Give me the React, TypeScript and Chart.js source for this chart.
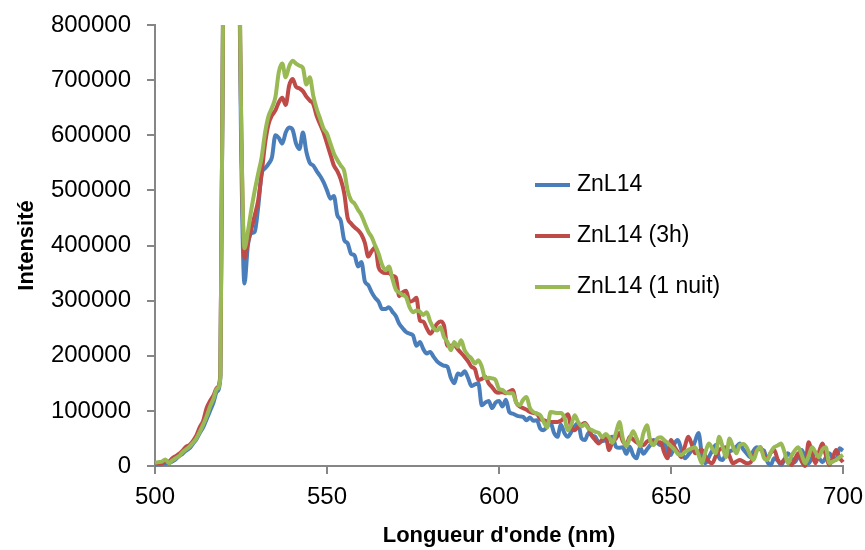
import { useEffect, useRef } from "react";
import { Chart, registerables } from "chart.js";

Chart.register(...registerables);

const wavelengths = [
  500, 501, 502, 503, 504, 505, 506, 507, 508, 509, 510, 511, 512, 513, 514, 515, 516, 517, 518, 519,
  520, 521, 522, 523, 524, 525, 526, 527, 528, 529, 530, 531, 532, 533, 534, 535, 536, 537, 538, 539,
  540, 541, 542, 543, 544, 545, 546, 547, 548, 549, 550, 551, 552, 553, 554, 555, 556, 557, 558, 559,
  560, 561, 562, 563, 564, 565, 566, 567, 568, 569, 570, 571, 572, 573, 574, 575, 576, 577, 578, 579,
  580, 581, 582, 583, 584, 585, 586, 587, 588, 589, 590, 591, 592, 593, 594, 595, 596, 597, 598, 599,
  600, 601, 602, 603, 604, 605, 606, 607, 608, 609, 610, 611, 612, 613, 614, 615, 616, 617, 618, 619,
  620, 621, 622, 623, 624, 625, 626, 627, 628, 629, 630, 631, 632, 633, 634, 635, 636, 637, 638, 639,
  640, 641, 642, 643, 644, 645, 646, 647, 648, 649, 650, 651, 652, 653, 654, 655, 656, 657, 658, 659,
  660, 661, 662, 663, 664, 665, 666, 667, 668, 669, 670, 671, 672, 673, 674, 675, 676, 677, 678, 679,
  680, 681, 682, 683, 684, 685, 686, 687, 688, 689, 690, 691, 692, 693, 694, 695, 696, 697, 698, 699,
  700,
];

const znL14 = [
  2000, 3000, 3000, 5000, 5000, 8000, 12000, 18000, 22000, 28000,
  32000, 40000, 48000, 60000, 70000, 85000, 100000, 115000, 135000, 160000,
  1050000, 1500000, 1600000, 1500000, 1200000, 600000, 331000, 400000, 422000, 425000,
  470000, 530000, 540000, 548000, 560000, 600000, 595000, 585000, 605000, 614000,
  610000, 585000, 575000, 605000, 570000, 550000, 545000, 535000, 526000, 515000,
  500000, 485000, 490000, 455000, 445000, 410000, 404000, 385000, 382000, 362000,
  370000, 335000, 328000, 315000, 305000, 298000, 285000, 285000, 288000, 280000,
  272000, 258000, 250000, 243000, 240000, 237000, 218000, 225000, 212000, 204000,
  207000, 198000, 190000, 185000, 182000, 180000, 160000, 150000, 168000, 165000,
  172000, 160000, 145000, 148000, 150000, 110000, 115000, 118000, 105000, 115000,
  118000, 108000, 120000, 98000, 95000, 92000, 90000, 89000, 83000, 88000,
  82000, 83000, 68000, 65000, 72000, 78000, 60000, 53000, 75000, 60000,
  53000, 62000, 72000, 78000, 50000, 47000, 60000, 55000, 53000, 43000,
  45000, 47000, 50000, 53000, 35000, 33000, 34000, 22000, 35000, 20000,
  14000, 34000, 22000, 30000, 38000, 47000, 42000, 38000, 43000, 25000,
  20000, 40000, 47000, 30000, 14000, 20000, 29000, 45000, 60000, 20000,
  5000, 16000, 28000, 38000, 15000, 11000, 23000, 27000, 29000, 35000,
  41000, 30000, 23000, 16000, 28000, 34000, 30000, 28000, 8000, 2000,
  14000, 10000, 2000, 12000, 23000, 15000, 7000, 18000, 29000, 15000,
  5000, 15000, 23000, 15000, 7000, 15000, 23000, 15000, 11000, 32000,
  28000,
];

const znL14_3h = [
  4000, 5000, 5000, 8000, 8000, 14000, 18000, 22000, 28000, 35000,
  38000, 45000, 55000, 70000, 82000, 105000, 118000, 128000, 142000, 165000,
  1050000, 1500000, 1600000, 1500000, 1200000, 650000, 377000, 405000, 430000, 455000,
  482000, 530000, 585000, 620000, 636000, 645000, 660000, 668000, 655000, 690000,
  702000, 688000, 685000, 680000, 670000, 663000, 657000, 635000, 620000, 605000,
  585000, 565000, 545000, 535000, 520000, 495000, 450000, 440000, 433000, 428000,
  420000, 405000, 380000, 390000, 397000, 360000, 352000, 350000, 350000, 345000,
  342000, 308000, 315000, 318000, 298000, 300000, 305000, 264000, 262000, 250000,
  240000, 248000, 258000, 262000, 255000, 218000, 218000, 219000, 212000, 205000,
  198000, 190000, 180000, 176000, 156000, 158000, 162000, 150000, 143000, 135000,
  133000, 134000, 132000, 135000, 138000, 115000, 108000, 105000, 102000, 98000,
  96000, 95000, 85000, 83000, 81000, 80000, 80000, 80000, 82000, 88000,
  94000, 70000, 65000, 71000, 75000, 78000, 69000, 55000, 47000, 41000,
  48000, 53000, 29000, 45000, 50000, 60000, 45000, 38000, 53000, 48000,
  43000, 40000, 38000, 44000, 47000, 45000, 43000, 43000, 25000, 14000,
  47000, 35000, 25000, 16000, 35000, 53000, 40000, 23000, 26000, 29000,
  18000, 8000, 5000, 18000, 29000, 32000, 34000, 18000, 5000, 8000,
  11000, 8000, 5000, 6000, 18000, 30000, 34000, 20000, 14000, 24000,
  29000, 12000, 5000, 12000, 10000, 2000, 12000, 23000, 8000, 0,
  43000, 22000, 5000, 25000, 41000, 20000, 2000, 15000, 29000, 15000,
  7000,
];

const znL14_1nuit = [
  6000, 7000, 8000, 12000, 5000, 10000, 14000, 18000, 25000, 30000,
  35000, 42000, 50000, 62000, 75000, 90000, 108000, 122000, 140000, 160000,
  1050000, 1500000, 1600000, 1500000, 1200000, 650000, 395000, 425000, 465000, 500000,
  531000, 560000, 605000, 635000, 650000, 669000, 715000, 730000, 705000, 725000,
  735000, 730000, 726000, 722000, 692000, 705000, 672000, 648000, 630000, 612000,
  603000, 585000, 567000, 555000, 545000, 535000, 500000, 482000, 476000, 465000,
  455000, 440000, 425000, 415000, 400000, 385000, 365000, 355000, 362000, 340000,
  320000, 315000, 310000, 306000, 288000, 279000, 282000, 280000, 274000, 279000,
  262000, 250000, 246000, 252000, 234000, 225000, 210000, 225000, 216000, 228000,
  210000, 201000, 195000, 186000, 192000, 180000, 159000, 160000, 159000, 156000,
  140000, 138000, 133000, 132000, 132000, 115000, 110000, 120000, 125000, 105000,
  98000, 95000, 92000, 80000, 70000, 98000, 97000, 96000, 96000, 88000,
  65000, 75000, 92000, 80000, 72000, 76000, 68000, 65000, 62000, 60000,
  52000, 58000, 52000, 42000, 60000, 80000, 50000, 36000, 50000, 63000,
  50000, 36000, 60000, 74000, 45000, 38000, 50000, 52000, 47000, 42000,
  36000, 30000, 22000, 20000, 25000, 29000, 32000, 34000, 20000, 5000,
  25000, 41000, 32000, 23000, 53000, 35000, 16000, 50000, 35000, 23000,
  38000, 40000, 34000, 20000, 11000, 28000, 34000, 15000, 11000, 25000,
  34000, 37000, 41000, 25000, 5000, 18000, 28000, 34000, 20000, 5000,
  18000, 34000, 25000, 16000, 30000, 34000, 5000, 8000, 11000, 16000,
  20000,
];

const seriesLabels = ["ZnL14", "ZnL14 (3h)", "ZnL14 (1 nuit)"];
const seriesColors = ["#4A7EBB", "#BE4B48", "#98B954"];
const xTickValues = [500, 550, 600, 650, 700];
const yTickValues = [0, 100000, 200000, 300000, 400000, 500000, 600000, 700000, 800000];
const xAxisTitle = "Longueur d'onde (nm)";
const yAxisTitle = "Intensité";

const FONT = '"Liberation Sans", Arial, sans-serif';
const AXIS_GRAY = "#868686";

const sideLegend = {
  id: "sideLegend",
  afterDraw(chart: any) {
    const ctx = chart.ctx;
    ctx.save();
    chart.data.datasets.forEach((ds: any, i: number) => {
      const y = 185 + i * 51;
      ctx.strokeStyle = ds.borderColor;
      ctx.lineWidth = 4;
      ctx.lineCap = "butt";
      ctx.beginPath();
      ctx.moveTo(535, y);
      ctx.lineTo(570, y);
      ctx.stroke();
      ctx.fillStyle = "#000";
      ctx.font = `23px ${FONT}`;
      ctx.textAlign = "left";
      ctx.textBaseline = "middle";
      ctx.fillText(ds.label, 577, y);
    });
    ctx.restore();
  },
};

export default function App() {
  const ref = useRef<HTMLCanvasElement | null>(null);

  useEffect(() => {
    const seriesValues = [znL14, znL14_3h, znL14_1nuit];
    const datasets = seriesValues.map((vals, i) => ({
      label: seriesLabels[i],
      data: wavelengths.map((x, j) => ({ x, y: vals[j] })),
      borderColor: seriesColors[i],
      backgroundColor: seriesColors[i],
      borderWidth: 4,
      pointRadius: 0,
      pointHoverRadius: 0,
      cubicInterpolationMode: "monotone" as const,
      fill: false,
      order: 3 - i,
      clip: { left: 5, top: 0, right: 5, bottom: 5 },
    }));

    const chart = new Chart(ref.current as HTMLCanvasElement, {
      type: "line",
      data: { datasets },
      options: {
        responsive: false,
        animation: false,
        devicePixelRatio: 1,
        layout: { padding: { left: 0, top: 25, right: 22, bottom: 0 } },
        plugins: {
          legend: { display: false },
          tooltip: { enabled: false },
        },
        scales: {
          x: {
            type: "linear",
            min: 500,
            max: 700,
            afterBuildTicks: (s: any) => {
              s.ticks = xTickValues.map((v) => ({ value: v }));
            },
            afterFit: (s: any) => {
              s.height = 84;
              s.paddingLeft = 0;
              s.paddingRight = 0;
            },
            ticks: {
              font: { family: FONT, size: 24 },
              color: "#000",
              padding: 9,
              maxRotation: 0,
              autoSkip: false,
              callback: (v: any) => String(v),
            },
            grid: {
              drawOnChartArea: false,
              drawTicks: true,
              tickLength: 8,
              color: AXIS_GRAY,
              lineWidth: 2,
            },
            border: { display: true, color: AXIS_GRAY, width: 2 },
            title: {
              display: true,
              text: xAxisTitle,
              color: "#000",
              font: { family: FONT, size: 22, weight: "bold" },
              padding: { top: 0, bottom: 1 },
            },
          },
          y: {
            type: "linear",
            min: 0,
            max: 800000,
            afterBuildTicks: (s: any) => {
              s.ticks = yTickValues.map((v) => ({ value: v }));
            },
            afterFit: (s: any) => {
              s.width = 155;
              s.paddingTop = 0;
              s.paddingBottom = 0;
            },
            ticks: {
              font: { family: FONT, size: 24 },
              color: "#000",
              padding: 16,
              autoSkip: false,
              callback: (v: any) => String(v),
            },
            grid: {
              drawOnChartArea: false,
              drawTicks: true,
              tickLength: 8,
              color: AXIS_GRAY,
              lineWidth: 2,
            },
            border: { display: true, color: AXIS_GRAY, width: 2 },
            title: {
              display: true,
              text: yAxisTitle,
              color: "#000",
              font: { family: FONT, size: 22, weight: "bold" },
              padding: { top: 14, bottom: 0 },
            },
          },
        },
      },
      plugins: [sideLegend],
    });
    return () => chart.destroy();
  }, []);

  return (
    <div
      style={{
        position: "fixed",
        left: 0,
        top: 0,
        width: 865,
        height: 550,
        background: "#fff",
      }}
    >
      <canvas ref={ref} width={865} height={550} style={{ display: "block" }} />
    </div>
  );
}
